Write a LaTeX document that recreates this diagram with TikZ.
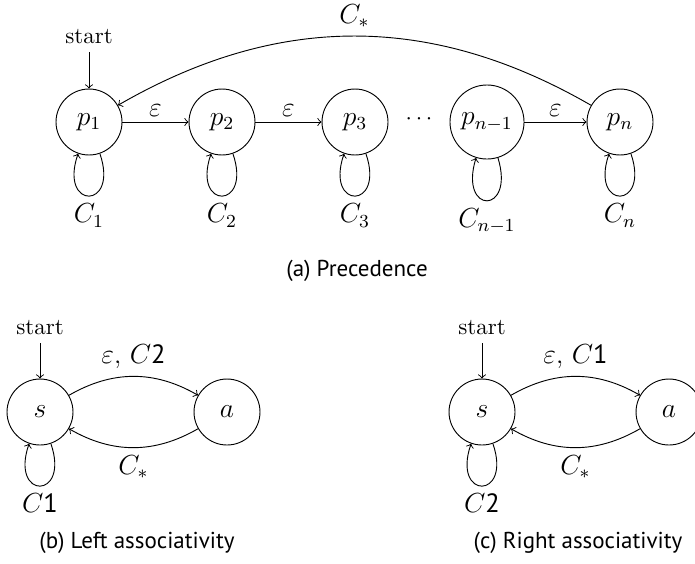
\documentclass[tikz,border=0pt]{standalone}
\usepackage{fontspec}
\setsansfont{PT Sans}
\begin{document}
\begin{tikzpicture}[x=0.435pt,y=-0.435pt,
  mathfont/.style={font=\fontsize{11.5}{13}\selectfont},
  state/.style={draw,circle,minimum size=28.7pt,inner sep=0pt,mathfont},
  bigstate/.style={state,minimum size=32.2pt},
  edge/.style={->},
  lbl/.style={inner sep=2pt,mathfont},
  elbl/.style={mathfont},
  capt/.style={font=\sffamily}]
\useasboundingbox (0,0) rectangle (695,563);
\newcommand{\sfd}[1]{\textsf{#1}}
% (a) Precedence
\node[state] (p1) at (89,122) {$p_1$};
\node[state] (p2) at (222,122) {$p_2$};
\node[state] (p3) at (355,122) {$p_3$};
\node (dots) at (419,119) {$\cdots$};
\node[bigstate] (pn1) at (487,122) {$p_{n-1}$};
\node[state] (pn) at (620,122) {$p_n$};
\node (st1) at (89,37) {start};
\draw[edge] (st1) -- (p1);
\draw[edge] (p1) -- node[above,lbl] {$\varepsilon$} (p2);
\draw[edge] (p2) -- node[above,lbl] {$\varepsilon$} (p3);
\draw[edge] (pn1) -- node[above,lbl] {$\varepsilon$} (pn);
\draw[edge] (pn) to[bend right=30] node[above,elbl] {$C_*$} (p1);
\draw[edge] (p1.-71) .. controls +(-71:26pt) and +(-109:26pt) .. node[below,elbl] {$C_1$} (p1.-109);
\draw[edge] (p2.-71) .. controls +(-71:26pt) and +(-109:26pt) .. node[below,elbl] {$C_2$} (p2.-109);
\draw[edge] (p3.-71) .. controls +(-71:26pt) and +(-109:26pt) .. node[below,elbl] {$C_3$} (p3.-109);
\draw[edge] (pn1.-73) .. controls +(-73:26pt) and +(-107:26pt) .. node[below,elbl] {$C_{n-1}$} (pn1.-107);
\draw[edge] (pn.-71) .. controls +(-71:26pt) and +(-109:26pt) .. node[below,elbl] {$C_n$} (pn.-109);
\node[capt] (capa) at (357,271) {(a) Precedence};
% (b) Left associativity
\node[state] (sb) at (40,412) {$s$};
\node[state] (ab) at (227,412) {$a$};
\node (st2) at (40,328) {start};
\draw[edge] (st2) -- (sb);
\draw[edge] (sb) to[bend left=30] node[above,elbl] {$\varepsilon$, $C$\sfd{2}} (ab);
\draw[edge] (ab) to[bend left=30] node[below,elbl] {$C_*$} (sb);
\draw[edge] (sb.-71) .. controls +(-71:26pt) and +(-109:26pt) .. node[below,elbl] {$C$\sfd{1}} (sb.-109);
\node[capt] (capb) at (137,543) {(b) Left associativity};
% (c) Right associativity
\node[state] (sc) at (482,412) {$s$};
\node[state] (ac) at (669,412) {$a$};
\node (st3) at (482,328) {start};
\draw[edge] (st3) -- (sc);
\draw[edge] (sc) to[bend left=30] node[above,elbl] {$\varepsilon$, $C$\sfd{1}} (ac);
\draw[edge] (ac) to[bend left=30] node[below,elbl] {$C_*$} (sc);
\draw[edge] (sc.-71) .. controls +(-71:26pt) and +(-109:26pt) .. node[below,elbl] {$C$\sfd{2}} (sc.-109);
\node[capt] (capc) at (578,543) {(c) Right associativity};
\end{tikzpicture}
\end{document}
